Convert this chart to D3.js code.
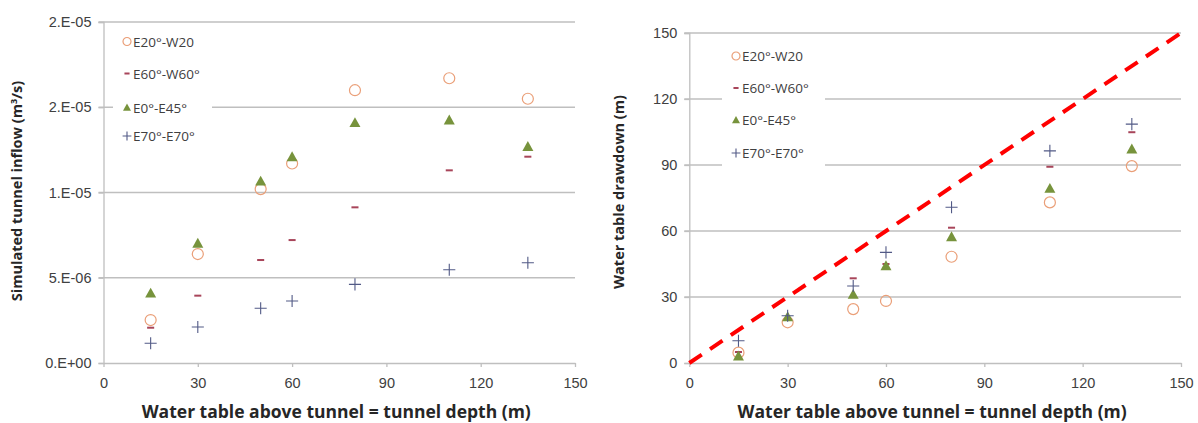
<!DOCTYPE html>
<html>
<head>
<meta charset="utf-8">
<script src="https://cdn.jsdelivr.net/npm/d3@7"></script>
<style>
  body { margin: 0; background: #fff; }
  svg { display: block; font-family: "Open Sans", "Liberation Sans", sans-serif; }
  .tick text { fill: #404040; font-size: 14.5px; }
  .axis-title { fill: #262626; font-weight: bold; font-size: 14.5px; }
  .x-title { font-size: 17.5px; }
  .legend text { fill: #404040; font-size: 13.5px; }
</style>
</head>
<body>
<svg id="chart"></svg>
<script>
// tunnel depth (m) - same for every series
const depths = [15, 30, 50, 60, 80, 110, 135]
const seriesNames = ['E20°-W20', 'E60°-W60°', 'E0°-E45°', 'E70°-E70°']

// left panel: simulated tunnel inflow (m3/s)
const inflowE20W20 = [2.52e-6, 6.39e-6, 1.02e-5, 1.17e-5, 1.60e-5, 1.67e-5, 1.55e-5]
const inflowE60W60 = [2.07e-6, 3.95e-6, 6.04e-6, 7.21e-6, 9.13e-6, 1.13e-5, 1.21e-5]
const inflowE0E45  = [4.10e-6, 7.02e-6, 1.067e-5, 1.21e-5, 1.41e-5, 1.425e-5, 1.27e-5]
const inflowE70E70 = [1.16e-6, 2.11e-6, 3.21e-6, 3.64e-6, 4.61e-6, 5.47e-6, 5.88e-6]

// right panel: water table drawdown (m)
const drawE20W20 = [4.7, 18.5, 24.5, 28.2, 48.3, 73.0, 89.5]
const drawE60W60 = [5.0, 20.0, 38.5, 45.0, 61.5, 89.2, 104.9]
const drawE0E45  = [3.2, 21.0, 31.2, 44.2, 57.4, 79.4, 97.3]
const drawE70E70 = [10.1, 21.5, 35.0, 50.3, 70.8, 96.4, 108.6]

const xTicks = [0, 30, 60, 90, 120, 150]
const inflowTicks = [0, 5e-6, 1e-5, 1.5e-5, 2e-5]
const inflowTickLabels = ['0.E+00', '5.E-06', '1.E-05', '2.E-05', '2.E-05']
const drawTicks = [0, 30, 60, 90, 120, 150]
const oneToOne = [0, 150]

const svgWidth = 1198
const svgHeight = 423

const svg = d3.select('#chart')
    .attr('width', svgWidth)
    .attr('height', svgHeight)

const markerStyle = [
    { type: 'circle', color: '#ea9f78' },
    { type: 'dash', color: '#a8455a' },
    { type: 'triangle', color: '#77933c' },
    { type: 'plus', color: '#525a86' }
]

function drawMarker(sel, type, color, size){
    if (type == 'circle'){
        sel.append('circle').attr('r', size * 0.5)
            .attr('fill', 'none').attr('stroke', color).attr('stroke-width', 1.2)
    } else if (type == 'dash'){
        sel.append('rect').attr('x', -size * 0.32).attr('y', -1).attr('width', size * 0.64).attr('height', 2)
            .attr('fill', color)
    } else if (type == 'triangle'){
        const h = size * 0.9, w = size * 0.5
        sel.append('path').attr('d', `M0,${-h * 0.55}L${w},${h * 0.45}L${-w},${h * 0.45}Z`)
            .attr('fill', color)
    } else {
        const s = size * 0.55
        sel.append('path').attr('d', `M${-s},0H${s}M0,${-s}V${s}`)
            .attr('stroke', color).attr('stroke-width', 1.1).attr('fill', 'none')
    }
}

function drawPanel(opt){
    const g = svg.append('g')
    const x = d3.scaleLinear().domain([0, 150]).range([opt.left, opt.right])
    const y = d3.scaleLinear().domain(opt.yDomain).range([opt.bottom, opt.top])

    // gridlines
    g.append('g').selectAll('line').data(opt.yTicks.slice(1))
        .enter().append('line')
        .attr('x1', opt.left - 5).attr('x2', opt.right)
        .attr('y1', d => y(d)).attr('y2', d => y(d))
        .attr('stroke', '#bfbfbf').attr('stroke-width', 1.3)

    // legend background hides the grid behind it
    g.append('rect')
        .attr('x', opt.legendBox[0]).attr('y', opt.legendBox[1])
        .attr('width', opt.legendBox[2]).attr('height', opt.legendBox[3])
        .attr('fill', '#fff')

    const yAxis = d3.axisLeft(y).tickValues(opt.yTicks).tickSize(5).tickPadding(7)
        .tickFormat((d, i) => opt.yTickLabels[i])
    const yG = g.append('g').attr('transform', `translate(${opt.left},0)`).call(yAxis)
    yG.selectAll('line, path').attr('stroke', '#bfbfbf').attr('stroke-width', 1.3)

    const xAxis = d3.axisBottom(x).tickValues(xTicks).tickSize(4).tickSizeOuter(0).tickPadding(11)
    const xG = g.append('g').attr('transform', `translate(0,${opt.bottom})`).call(xAxis)
    xG.selectAll('line, path').attr('stroke', '#bfbfbf').attr('stroke-width', 1.3)

    // axis titles
    g.append('text').attr('class', 'axis-title x-title')
        .attr('x', (opt.left + opt.right) / 2 - 3).attr('y', 418)
        .attr('text-anchor', 'middle')
        .text('Water table above tunnel = tunnel depth (m)')

    const yt = g.append('text').attr('class', 'axis-title')
        .attr('transform', `translate(${opt.yTitleX},${opt.yTitleY}) rotate(-90)`)
        .attr('text-anchor', 'middle')
    opt.yTitle(yt)

    if (opt.line){
        g.append('line')
            .attr('x1', x(oneToOne[0])).attr('y1', y(oneToOne[0]))
            .attr('x2', x(oneToOne[1])).attr('y2', y(oneToOne[1]))
            .attr('stroke', '#ff0000').attr('stroke-width', 4)
            .attr('stroke-dasharray', '15,10')
    }

    // points
    opt.series.forEach(function(vals, si){
        const st = markerStyle[si]
        g.append('g').selectAll('g').data(vals)
            .enter().append('g')
            .attr('transform', (d, i) => `translate(${x(depths[i])},${y(d)})`)
            .each(function(){ drawMarker(d3.select(this), st.type, st.color, 11) })
    })

    // legend
    const lg = g.append('g').attr('class', 'legend')
    seriesNames.forEach(function(name, i){
        const row = lg.append('g')
            .attr('transform', `translate(${opt.legendX},${opt.legendY[i]})`)
        drawMarker(row, markerStyle[i].type, markerStyle[i].color, 8)
        row.append('text').attr('x', 6).attr('y', 5).text(name)
    })
}

drawPanel({
    left: 103.5, right: 575, top: 22, bottom: 363,
    yDomain: [0, 2e-5], yTicks: inflowTicks, yTickLabels: inflowTickLabels,
    series: [inflowE20W20, inflowE60W60, inflowE0E45, inflowE70E70],
    legendX: 127, legendY: [41.5, 73.5, 107.5, 136],
    legendBox: [113, 28, 99, 120],
    yTitleX: 22, yTitleY: 191,
    yTitle: function(t){
        t.append('tspan').text('Simulated tunnel inflow (m')
        t.append('tspan').attr('dy', -5).attr('font-size', '9px').text('3')
        t.append('tspan').attr('dy', 5).text('/s)')
    }
})

drawPanel({
    left: 689.3, right: 1181, top: 33, bottom: 363,
    yDomain: [0, 150], yTicks: drawTicks, yTickLabels: drawTicks.map(String),
    series: [drawE20W20, drawE60W60, drawE0E45, drawE70E70],
    legendX: 736, legendY: [56, 88, 120, 153],
    legendBox: [722, 42, 103, 125],
    yTitleX: 624, yTitleY: 192,
    yTitle: function(t){ t.text('Water table drawdown (m)') },
    line: true
})
</script>
</body>
</html>
